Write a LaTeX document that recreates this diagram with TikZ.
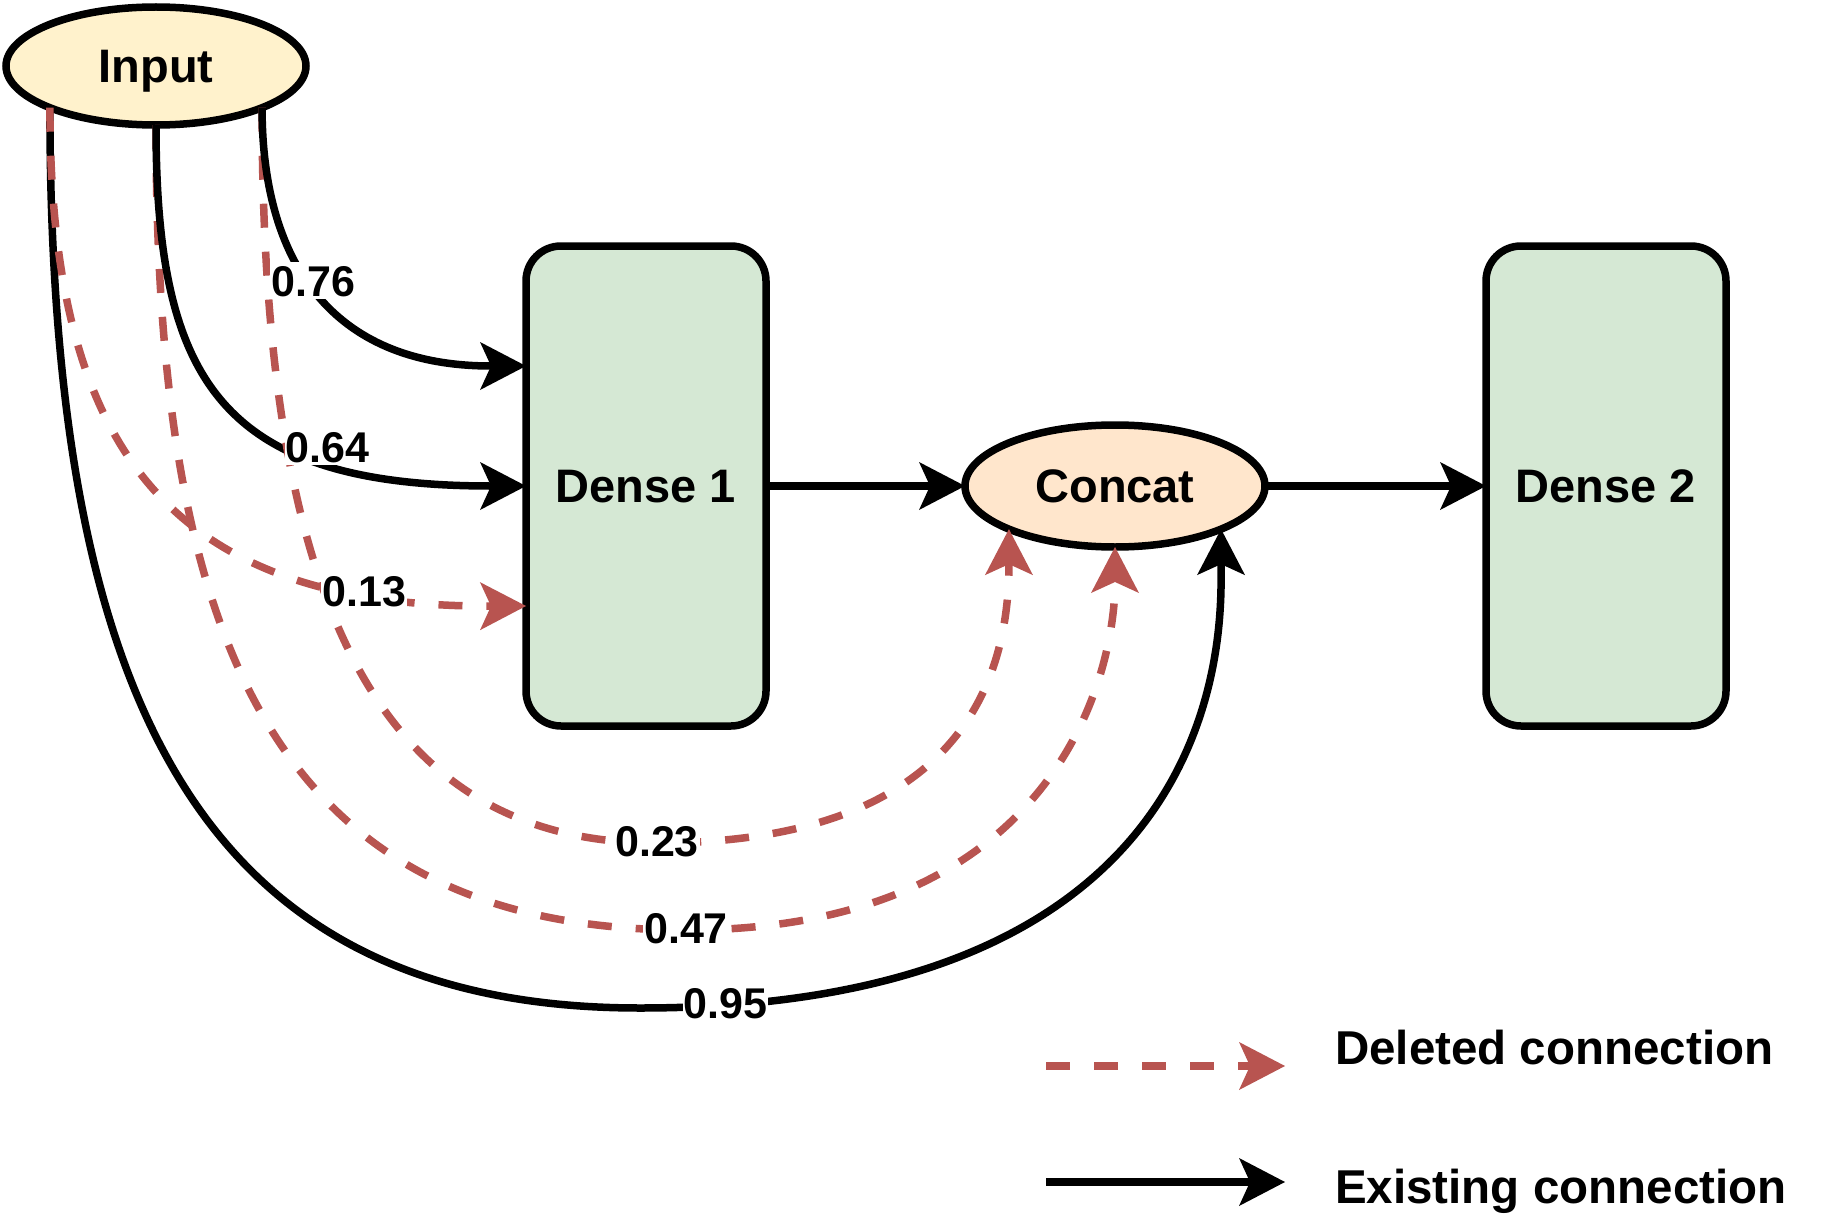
\documentclass[tikz,border=0pt]{standalone}
\usepackage{fontspec}
\setmainfont{Liberation Sans}
\usetikzlibrary{arrows.meta,shapes.geometric,calc}
\definecolor{delred}{HTML}{B85450}
\definecolor{inputfill}{HTML}{FFF2CC}
\definecolor{concatfill}{HTML}{FFE6CC}
\definecolor{densefill}{HTML}{D5E8D4}
\begin{document}
\begin{tikzpicture}[x=1pt,y=-1pt,
  headtip/.style={-{Stealth[length=46pt,width=48pt,inset=11pt,line width=0pt]}},
  ex/.style={draw=black,line width=7.5pt,headtip},
  del/.style={draw=delred,line width=7.5pt,dash pattern=on 24pt off 24pt,headtip},
  nodetext/.style={font=\bfseries\fontsize{47}{56}\selectfont,text height=33.5pt,text depth=0pt},
  ell/.style={ellipse,draw=black,line width=7.5pt,inner sep=0pt,outer sep=0pt,nodetext},
  box/.style={rectangle,rounded corners=35pt,draw=black,line width=7.5pt,fill=densefill,
    minimum width=240pt,minimum height=480pt,inner sep=0pt,outer sep=0pt,nodetext},
  lbl/.style={fill=white,inner xsep=1pt,inner ysep=3pt,
    font=\bfseries\fontsize{43}{50}\selectfont,text height=31pt,text depth=0pt},
  leg/.style={inner sep=0pt,font=\bfseries\fontsize{47.5}{56}\selectfont}]

\fill[white] (0,0) rectangle (1848,1228);

% nodes
\node[ell,fill=inputfill,minimum width=300pt,minimum height=118pt] (in) at (156,66) {Input};
\node[box] (d1) at (646,486) {Dense 1};
\node[ell,fill=concatfill,minimum width=300pt,minimum height=122pt] (cc) at (1115,486) {Concat};
\node[box] (d2) at (1606,486) {Dense 2};

% ports on Dense 1
\coordinate (p1) at ($(d1.north west)!0.25!(d1.south west)$);
\coordinate (p2) at ($(d1.north west)!0.5!(d1.south west)$);
\coordinate (p3) at ($(d1.north west)!0.75!(d1.south west)$);

% connections
\draw[ex] (in.south west) .. controls (50,700) and (200,1008) .. (640,1008)
  .. controls (1240,1008) and (1221,620) .. (cc.south east) coordinate[pos=0.05] (l95);
\draw[del] (in.south west) .. controls (50,450) and (170,607) .. (p3) coordinate[pos=0.83] (l13);
\draw[del] (in.south) .. controls (156,620) and (260,930) .. (686,930) coordinate (l47)
  .. controls (1060,930) and (1115,670) .. (cc.south);
\draw[ex] (in.south) .. controls (156,380) and (220,486) .. (p2) coordinate[pos=0.73] (l64);
\draw[del] (in.south east) .. controls (262,560) and (355,843) .. (657,843) coordinate (l23)
  .. controls (920,843) and (1009,720) .. (cc.south west);
\draw[ex] (in.south east) .. controls (262,260) and (330,366) .. (p1) coordinate[pos=0.47] (l76);
\draw[ex] (d1.east) -- (cc.west);
\draw[ex] (cc.east) -- (d2.west);

% labels
\node[lbl,yshift=5pt] (t76) at (l76) {0.76};
\node[lbl,yshift=15pt] (t64) at (l64) {0.64};
\node[lbl,yshift=2pt] (t13) at (l13) {0.13};
\node[lbl,yshift=2pt] (t23) at (l23) {0.23};
\node[lbl,yshift=2pt] (t47) at (l47) {0.47};
\node[lbl,yshift=2pt] (t95) at (l95) {0.95};

% legend
\coordinate (g1a) at (1046,1066);
\coordinate (g1b) at (1285,1066);
\coordinate (g2a) at (1046,1182);
\coordinate (g2b) at (1285,1182);
\draw[del] (g1a) -- (g1b);
\draw[ex] (g2a) -- (g2b);
\node[leg,anchor=base west] (legdel) at (1335,1064) {Deleted connection};
\node[leg,anchor=base west] (legex) at (1335,1203) {Existing connection};
\end{tikzpicture}
\end{document}
